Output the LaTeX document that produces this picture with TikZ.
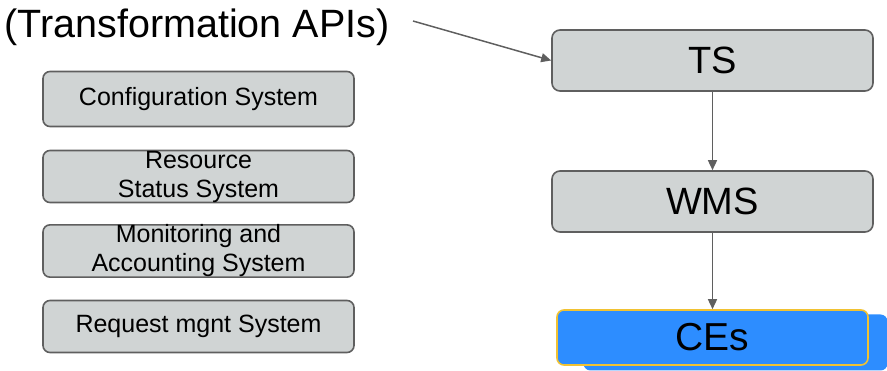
\documentclass[tikz,border=0pt]{standalone}
\usepackage{fontspec}
\setmainfont{Liberation Sans}
\usepackage{xcolor}
\usetikzlibrary{arrows.meta}

\definecolor{boxgray}{RGB}{208,212,212}
\definecolor{edgegray}{RGB}{95,95,95}
\definecolor{ceblue}{RGB}{45,141,255}
\definecolor{ceyellow}{RGB}{241,194,50}

\tikzset{
  sysbox/.style={draw=edgegray, fill=boxgray, line width=1.6pt, rounded corners=7pt,
    minimum width=311pt, align=center, inner sep=0pt,
    font=\fontsize{25}{29}\selectfont},
  mainbox/.style={draw=edgegray, fill=boxgray, line width=1.6pt, rounded corners=8pt,
    minimum width=321pt, minimum height=61pt, inner sep=0pt,
    font=\fontsize{38}{44}\selectfont},
  flow/.style={edgegray, line width=1.5pt, -{Triangle[length=10pt,width=9pt]}}
}

\begin{document}
\begin{tikzpicture}[x=1pt,y=-1pt]
    % canvas size of the reference
    \useasboundingbox (0,0) rectangle (887,371);

    % title text with its arrow
    \node (api) at (197,27) {\fontsize{39.5}{46}\selectfont (Transformation APIs)};
    \coordinate (apistart) at (413,21);

    % left column of systems
    \node[sysbox, minimum height=55pt] (config) at (198.5,99) {Configuration System};
    \node[sysbox, minimum height=52pt] (rss) at (198.5,176.5) {Resource\\Status System};
    \node[sysbox, minimum height=51pt] (mon) at (198.5,251) {Monitoring and\\Accounting System};
    \node[sysbox, minimum height=52pt] (req) at (198.5,326.5) {Request mgnt System};

    % right column
    \node[mainbox] (ts) at (712.5,60.5) {TS};
    \node[mainbox] (wms) at (712.5,201.5) {WMS};

    % stacked CEs
    \node[fill=ceblue, rounded corners=7pt, minimum width=304pt, minimum height=56pt]
        (ceback) at (735.5,342.5) {};
    \node[draw=ceyellow, fill=ceblue, line width=1.6pt, rounded corners=7pt,
        minimum width=311pt, minimum height=55pt, inner sep=0pt,
        font=\fontsize{39}{44}\selectfont] (ces) at (712.5,337.5) {CEs};

    % connectors
    \draw[flow] (apistart) -- (ts.west);
    \draw[flow] (ts) -- (wms);
    \draw[flow] (wms) -- (ces);

\end{tikzpicture}
\end{document}
